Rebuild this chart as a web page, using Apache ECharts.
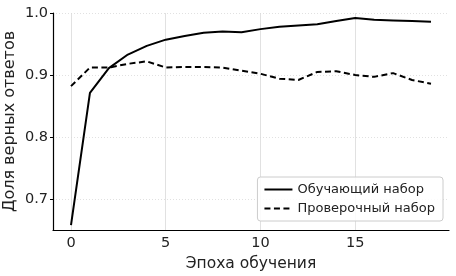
<!DOCTYPE html>
<html>
<head>
<meta charset="utf-8">
<script src="https://cdn.jsdelivr.net/npm/echarts@6/dist/echarts.min.js"></script>
<style>
  html, body { margin: 0; padding: 0; background: #fff; }
  #chart { width: 456px; height: 276px; }
</style>
</head>
<body>
<div id="chart"></div>
<script>
// epochs 0..19, accuracy on train / validation set
const epochs = [0, 1, 2, 3, 4, 5, 6, 7, 8, 9, 10, 11, 12, 13, 14, 15, 16, 17, 18, 19];
const trainAcc = [0.658, 0.871, 0.911, 0.933, 0.947, 0.957, 0.963, 0.968, 0.970, 0.969,
                  0.974, 0.978, 0.980, 0.982, 0.987, 0.992, 0.989, 0.988, 0.987, 0.986];
const valAcc   = [0.882, 0.912, 0.912, 0.918, 0.922, 0.912, 0.913, 0.913, 0.912, 0.907,
                  0.902, 0.894, 0.892, 0.905, 0.906, 0.900, 0.897, 0.903, 0.892, 0.886];
const xTicks = [0, 5, 10, 15];
const yTicks = [0.7, 0.8, 0.9, 1.0];

const trainName = 'Обучающий набор';
const valName   = 'Проверочный набор';

const font = 'DejaVu Sans';
const gridClr = '#d9d9d9';

const chart = echarts.init(document.getElementById('chart'), null, { renderer: 'canvas' });

chart.setOption({
  backgroundColor: '#fff', animation: false,
  textStyle: { fontFamily: font },
  grid: { left: 53, right: 7, top: 13, bottom: 46, containLabel: false, outerBoundsMode: 'none' },
  legend: {
    data: [trainName, valName], orient: 'vertical',
    right: 13, bottom: 55,
    itemWidth: 28, itemHeight: 14, itemGap: 6,
    padding: [6, 8, 6, 6],
    backgroundColor: 'rgba(255,255,255,0.85)',
    borderColor: '#cccccc', borderWidth: 1, borderRadius: 3,
    itemStyle: { opacity: 0 },
    textStyle: { fontFamily: font, fontSize: 13, color: '#222' },
  },
  xAxis: {
    type: 'value', min: -0.95, max: 19.95,
    name: 'Эпоха обучения', nameLocation: 'middle', nameGap: 26, nameMoveOverlap: false,
    nameTextStyle: { fontFamily: font, fontSize: 15.5, color: '#222' },
    axisLine: { onZero: false, lineStyle: { color: '#000', width: 1.2 } },
    axisTick: { show: false, customValues: xTicks },
    axisLabel: { customValues: xTicks, margin: 6, fontSize: 14.5, color: '#222' },
    splitLine: { show: true, lineStyle: { color: gridClr, width: 0.8 } },
  },
  yAxis: {
    type: 'value', min: 0.65, max: 1.0,
    name: 'Доля верных ответов', nameLocation: 'middle', nameGap: 35, nameMoveOverlap: false,
    nameTextStyle: { fontFamily: font, fontSize: 16, color: '#222' },
    axisLine: { show: true, onZero: false, lineStyle: { color: '#000', width: 1.2 } },
    axisTick: { show: true, length: 3, customValues: yTicks, lineStyle: { color: '#000' } },
    axisLabel: { customValues: yTicks, margin: 5, fontSize: 14.5, color: '#222',
                 formatter: v => v.toFixed(1) },
    splitLine: { show: true, lineStyle: { color: gridClr, width: 0.8, type: [1, 2] } },
  },
  series: [
    {
      name: trainName, type: 'line', symbol: 'none',
      data: epochs.map((e, i) => [e, trainAcc[i]]),
      lineStyle: { color: '#000', width: 2 }, itemStyle: { color: '#000' },
    },
    {
      name: valName, type: 'line', symbol: 'none',
      data: epochs.map((e, i) => [e, valAcc[i]]),
      lineStyle: { color: '#000', width: 2, type: [6, 3.5] }, itemStyle: { color: '#000' },
    },
  ],
});
</script>
</body>
</html>
